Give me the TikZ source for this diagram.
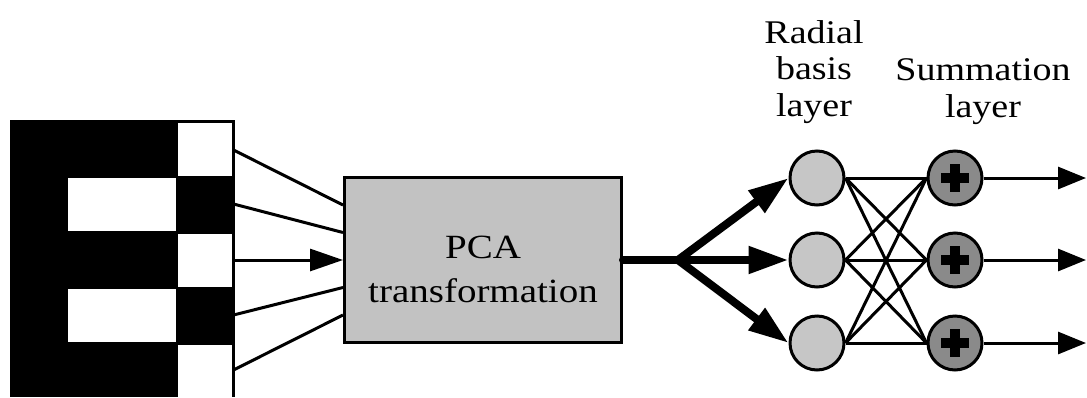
\documentclass[tikz,border=0pt]{standalone}
\usepackage{fontspec}
\setmainfont{Liberation Serif}
\newfontfamily\capfont{Liberation Serif}
\usetikzlibrary{arrows.meta,calc}
\definecolor{pcagray}{HTML}{C2C2C2}
\definecolor{rbfgray}{HTML}{C6C6C6}
\definecolor{sumgray}{HTML}{8A8A8A}
% text is set slightly condensed in height
\newcommand{\vsquash}[1]{\scalebox{1}[0.87]{#1}}
\begin{document}
\begin{tikzpicture}[x=1pt,y=-1pt,
  wire/.style={line width=3pt},
  inarrow/.style={wire,-{Triangle[length=33pt,width=22pt]}},
  outarrow/.style={wire,-{Triangle[length=28pt,width=22pt]}},
  fanline/.style={line width=8pt,line cap=round},
  fanarrow/.style={line width=8pt,line cap=round,-{Triangle[length=40pt,width=26pt]}},
  rbf/.style={circle,draw,line width=3pt,fill=rbfgray,minimum size=54pt,inner sep=0pt},
  sumnode/.style={circle,draw,line width=3pt,fill=sumgray,minimum size=54pt,inner sep=0pt},
  pcabox/.style={draw,line width=3pt,fill=pcagray,minimum width=277pt,minimum height=165pt,inner sep=0pt},
  caption/.style={font=\capfont\fontsize{38}{42.5}\selectfont,inner sep=0pt},
  boxtext/.style={font=\capfont\fontsize{39}{50.6}\selectfont,inner sep=0pt},
]
\useasboundingbox (0,0) rectangle (1087,397);

% input character pattern (5 x 3 cells)
\fill (10,120) rectangle (178,397);
\fill (176,176) rectangle (232,234);
\fill (176,287) rectangle (232,345);
\fill[white] (68,178) rectangle (176,231);
\fill[white] (68,289) rectangle (176,342);
\draw[wire] (178,121.5) -- (233.5,121.5) -- (233.5,397);

% taps on the right edge of the pattern
\coordinate (t1) at (233.5,150);
\coordinate (t2) at (233.5,204);
\coordinate (t3) at (233.5,260);
\coordinate (t4) at (233.5,315);
\coordinate (t5) at (233.5,370);

% PCA block
\node[pcabox] (pca) at (483,260) {};
\node[boxtext] (pcalabel) at (483,272)
  {\vsquash{\begin{tabular}{@{}c@{}}PCA\\transformation\end{tabular}}};

\draw[wire] (t1) -- ($(pca.west)+(0,-55)$);
\draw[wire] (t2) -- ($(pca.west)+(0,-27.5)$);
\draw[inarrow] (t3) -- (pca.west);
\draw[wire] (t4) -- ($(pca.west)+(0,27.5)$);
\draw[wire] (t5) -- ($(pca.west)+(0,55)$);

% radial basis and summation layers
\node[rbf] (r1) at (817,178) {};
\node[rbf] (r2) at (817,260) {};
\node[rbf] (r3) at (817,343) {};
\node[sumnode] (s1) at (955,178) {};
\node[sumnode] (s2) at (955,260) {};
\node[sumnode] (s3) at (955,343) {};
\foreach \s in {s1,s2,s3} {
  \fill ($(\s)+(-14,-5)$) rectangle ($(\s)+(14,5)$);
  \fill ($(\s)+(-5,-14)$) rectangle ($(\s)+(5,14)$);
}

% fan-out from the PCA block
\coordinate (fork) at (678,260);
\draw[fanline] (pca.east) -- (fork);
\draw[fanarrow] (fork) -- (r1.west);
\draw[fanarrow] (fork) -- (r2.west);
\draw[fanarrow] (fork) -- (r3.west);

% full connection between the two layers
\foreach \i in {1,2,3}
  \foreach \j in {1,2,3}
    \draw[wire] (r\i.east) -- (s\j.west);

% outputs
\coordinate (o1) at (1086,178);
\coordinate (o2) at (1086,260);
\coordinate (o3) at (1086,343);
\draw[outarrow] (s1.east) -- (o1);
\draw[outarrow] (s2.east) -- (o2);
\draw[outarrow] (s3.east) -- (o3);

% layer captions
\node[caption] (lblrbf) at (814,72.6)
  {\vsquash{\begin{tabular}{@{}c@{}}Radial\\basis\\layer\end{tabular}}};
\node[caption] (lblsum) at (983,92)
  {\vsquash{\begin{tabular}{@{}c@{}}Summation\\layer\end{tabular}}};
\end{tikzpicture}
\end{document}
